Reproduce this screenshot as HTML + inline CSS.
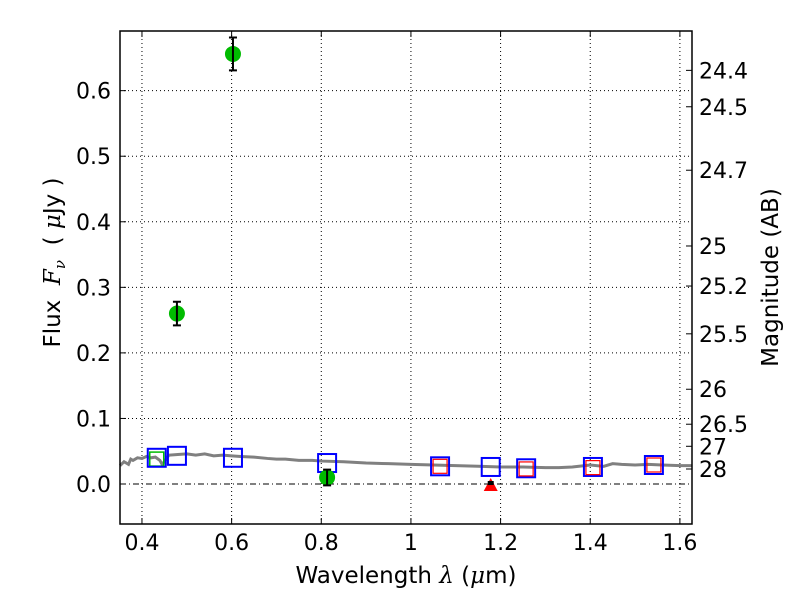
<!DOCTYPE html>
<html><head><meta charset="utf-8"><style>
body{margin:0;background:#fff;}
svg text{font-family:"DejaVu Sans","Liberation Sans",sans-serif;fill:#000;}
</style></head><body>
<svg id="chart" width="800" height="600" xmlns="http://www.w3.org/2000/svg"></svg>
<script>
const xTicks=[0.4,0.6,0.8,1.0,1.2,1.4,1.6];
const xTickLabels=["0.4","0.6","0.8","1","1.2","1.4","1.6"];
const yTicks=[0.0,0.1,0.2,0.3,0.4,0.5,0.6];
const yTickLabels=["0.0","0.1","0.2","0.3","0.4","0.5","0.6"];
const magTicks=[24.4,24.5,24.7,25,25.2,25.5,26,26.5,27,28];
const specWave=[0.351,0.36,0.37,0.375,0.38,0.39,0.40,0.41,0.42,0.43,0.44,0.445,0.45,0.46,0.48,0.50,0.52,0.54,0.56,0.58,0.60,0.62,0.65,0.68,0.70,0.72,0.75,0.78,0.80,0.85,0.90,0.95,1.0,1.05,1.1,1.15,1.2,1.25,1.3,1.33,1.36,1.4,1.43,1.45,1.47,1.5,1.53,1.56,1.6,1.627];
const specFlux=[0.028,0.034,0.030,0.038,0.036,0.040,0.039,0.042,0.040,0.041,0.036,0.030,0.034,0.044,0.045,0.046,0.044,0.046,0.043,0.044,0.043,0.042,0.041,0.039,0.038,0.038,0.036,0.036,0.035,0.034,0.032,0.031,0.030,0.029,0.028,0.027,0.026,0.026,0.025,0.025,0.026,0.029,0.027,0.031,0.030,0.029,0.030,0.029,0.028,0.028];
const modelWave=[0.433,0.478,0.603,0.813,1.065,1.178,1.257,1.406,1.542];
const modelFlux=[0.040,0.043,0.040,0.032,0.027,0.026,0.024,0.026,0.029];
const nirWave=[1.065,1.257,1.406,1.542];
const nirFlux=[0.027,0.023,0.025,0.029];
const obsWave=[0.478,0.603,0.813];
const obsFlux=[0.260,0.656,0.010];
const obsErr=[0.018,0.025,0.012];
const ulWave=[1.178];
const ulFlux=[0.0];
const g3Wave=[0.433];
const g3Flux=[0.038];

const L=120,R=692,T=31,B=524,X0=0.351,X1=1.627,Y0=-0.061,Y1=0.691;
const sx=v=>L+(v-X0)/(X1-X0)*(R-L);
const sy=v=>B-(v-Y0)/(Y1-Y0)*(B-T);
const svg=document.getElementById('chart');
const NS="http://www.w3.org/2000/svg";
function mk(tag,attrs,parent){const e=document.createElementNS(NS,tag);for(const k in attrs)e.setAttribute(k,attrs[k]);(parent||svg).appendChild(e);return e;}

xTicks.forEach((v,i)=>{
  const g=mk('line',{x1:sx(v),x2:sx(v),y1:T,y2:B,stroke:'#000','stroke-width':1,'stroke-dasharray':'1,3'});
  
  
  mk('line',{x1:sx(v),x2:sx(v),y1:B,y2:B-6,stroke:'#000'});
  mk('line',{x1:sx(v),x2:sx(v),y1:T,y2:T+6,stroke:'#000'});
  const t=mk('text',{x:sx(v),y:B+26,'text-anchor':'middle','font-size':22});
  t.textContent=xTickLabels[i];
  
  
});
yTicks.forEach((v,i)=>{
  const g=mk('line',{x1:L,x2:R,y1:sy(v),y2:sy(v),stroke:'#000','stroke-width':1,'stroke-dasharray':v===0?'6,3,1,3':'1,3'});
  
  
  mk('line',{x1:L,x2:L+6,y1:sy(v),y2:sy(v),stroke:'#000'});
  const t=mk('text',{x:L-9,y:sy(v)+8,'text-anchor':'end','font-size':22});
  t.textContent=yTickLabels[i];
  
  
});
magTicks.forEach(m=>{
  const f=Math.pow(10,-(m-23.9)/2.5);
  const y=sy(f);
  mk('line',{x1:R-6,x2:R,y1:y,y2:y,stroke:'#000'});
  const t=mk('text',{x:R+7,y:y+8,'font-size':22});
  t.textContent=String(m);
  
  
});

const sp=mk('polyline',{points:specWave.map((w,i)=>sx(w)+','+sy(specFlux[i])).join(' '),fill:'none',stroke:'#808080','stroke-width':3});



g3Wave.forEach((w,i)=>{
  const r=mk('rect',{x:sx(w)-7,y:sy(g3Flux[i])-7,width:14,height:14,fill:'none',stroke:'#00bb00','stroke-width':1.5});
  
  
});
modelWave.forEach((w,i)=>{
  const r=mk('rect',{x:sx(w)-9,y:sy(modelFlux[i])-9,width:18,height:18,fill:'none',stroke:'#0000ff','stroke-width':2});
  
  
});
nirWave.forEach((w,i)=>{
  const r=mk('rect',{x:sx(w)-7,y:sy(nirFlux[i])-7,width:14,height:14,fill:'none',stroke:'#ff0000','stroke-width':1.2});
  
  
});
obsWave.forEach((w,i)=>{
  const c=mk('circle',{cx:sx(w),cy:sy(obsFlux[i]),r:8,fill:'#00bb00'});
  
  
  const x=sx(w),y1=sy(obsFlux[i]+obsErr[i]),y2=sy(obsFlux[i]-obsErr[i]);
  const e=mk('path',{d:`M${x},${y1}V${y2}M${x-4},${y1}H${x+4}M${x-4},${y2}H${x+4}`,stroke:'#000','stroke-width':2,fill:'none'});
  
  
});
ulWave.forEach((w,i)=>{
  const x=sx(w),y=sy(ulFlux[i]);
  const p=mk('path',{d:`M${x-7},${y+7}L${x},${y-6}L${x+7},${y+7}Z`,fill:'#ff0000'});
  
  
  mk('rect',{x:x-3,y:y-3,width:6,height:4,fill:'#000'});
});

const fr=mk('rect',{x:L,y:T,width:R-L,height:B-T,fill:'none',stroke:'#000','stroke-width':1.5});



let t=mk('text',{x:(L+R)/2,y:583,'text-anchor':'middle','font-size':23,'xml:space':'preserve'});
t.innerHTML='Wavelength  <tspan font-style="italic" font-family="DejaVu Serif,serif">λ</tspan> (<tspan font-style="italic" font-family="DejaVu Serif,serif">μ</tspan>m)';


t=mk('text',{x:0,y:0,'text-anchor':'middle','font-size':23,transform:`translate(60,${(T+B)/2-15}) rotate(-90)`});
t.innerHTML='Flux \u00a0<tspan font-style="italic" font-family="DejaVu Serif,serif">F<tspan font-size="15" dy="5">ν</tspan></tspan><tspan dy="-5">\u00a0 ( </tspan><tspan font-style="italic" font-family="DejaVu Serif,serif">μ</tspan>Jy )';


t=mk('text',{x:0,y:0,'text-anchor':'middle','font-size':23,transform:`translate(778,${(T+B)/2}) rotate(-90)`});
t.textContent='Magnitude (AB)';


</script>
</body></html>
